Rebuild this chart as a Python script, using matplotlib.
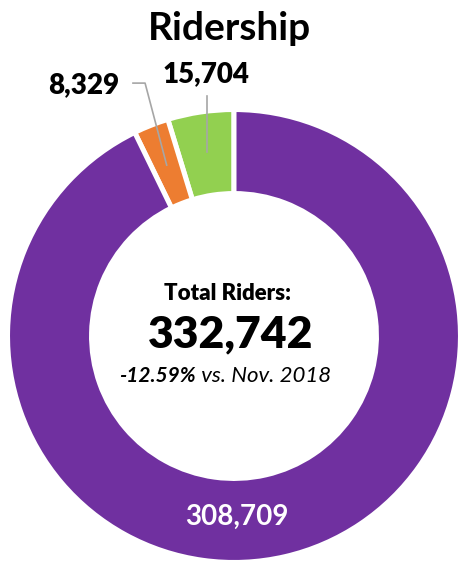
import numpy as np
import matplotlib.pyplot as plt

plt.rcParams['font.family'] = ['Lato', 'DejaVu Sans']

# slices, counter-clockwise from 12 o'clock
categories = ['Green', 'Orange', 'Purple']
riders = [15704, 8329, 308709]
colors = ['#92D050', '#ED7D31', '#7030A0']
total = 332742
change = '-12.59%'
compare = ' vs. Nov. 2018'

W, H = 458, 561
cx, cy, R = 234, 336, 224

fig = plt.figure(figsize=(W / 100, H / 100), dpi=100)
ax = fig.add_axes([(cx - R) / W, (H - cy - R) / H, 2 * R / W, 2 * R / H])

wedges, _ = ax.pie(riders, colors=colors, startangle=90, counterclock=True,
                   radius=1.011, wedgeprops=dict(width=0.375, edgecolor='white', linewidth=3.6))
for w in wedges:
    w.set_clip_on(False)
ax.set_xlim(-1, 1)
ax.set_ylim(-1, 1)
ax.axis('off')


def px(x, y):
    return x / W, 1 - y / H


def mid(w, r):
    a = np.deg2rad((w.theta1 + w.theta2) / 2)
    return r * np.cos(a), r * np.sin(a)


# leader lines
gx, gy = mid(wedges[0], 0.83)
ax.plot([gx, gx], [gy, 1.071], color='#A6A6A6', lw=1.2, clip_on=False)
ox, oy = mid(wedges[1], 0.82)
ax.plot([ox, -0.397, -0.451], [oy, 1.129, 1.129], color='#A6A6A6', lw=1.2, clip_on=False)

fig.text(*px(229, 28), 'Ridership', ha='center', va='center', fontsize=28, fontweight='bold')
fig.text(*px(206, 74), f'{riders[0]:,}', ha='center', va='center', fontsize=20, fontweight='heavy')
fig.text(*px(84, 85), f'{riders[1]:,}', ha='center', va='center', fontsize=20, fontweight='heavy')
fig.text(*px(237, 517), f'{riders[2]:,}', ha='center', va='center', fontsize=20,
         fontweight='bold', color='white')

fig.text(*px(227, 294), 'Total Riders:', ha='center', va='center', fontsize=16, fontweight='heavy')
fig.text(*px(231, 334), f'{total:,}', ha='center', va='center', fontsize=32, fontweight='heavy')
fig.text(*px(196, 376), change, ha='right', va='center', fontsize=15, fontweight='bold',
         style='italic')
fig.text(*px(196, 376), compare, ha='left', va='center', fontsize=16, style='italic')

fig.savefig('out.png', dpi=100)
